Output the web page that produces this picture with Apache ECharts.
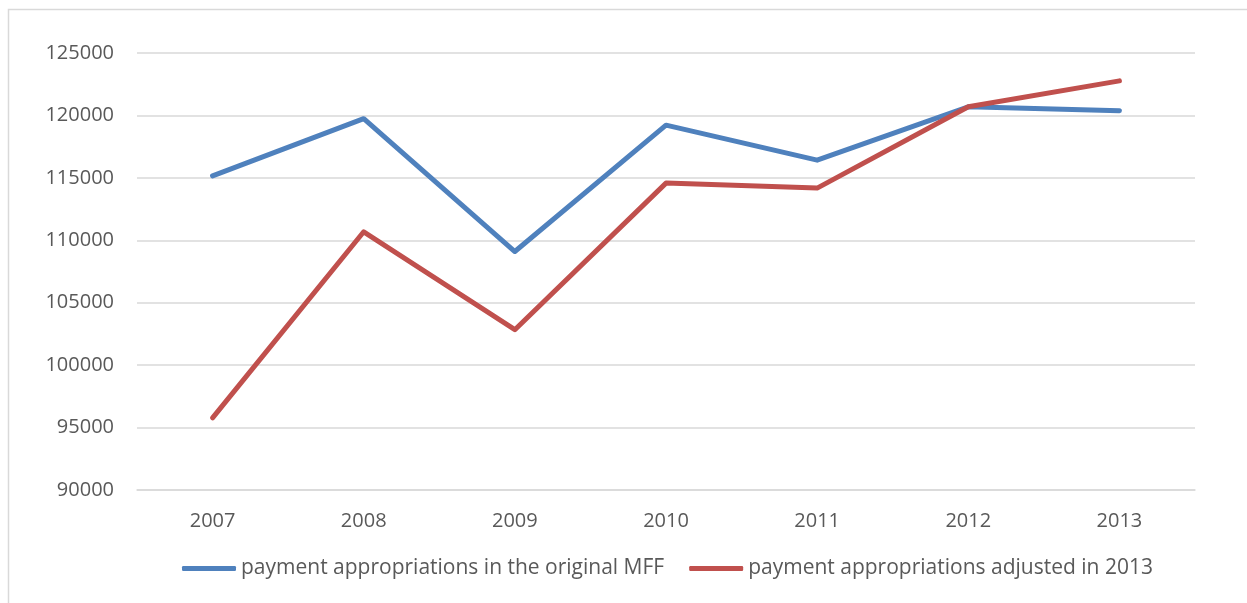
<!DOCTYPE html>
<html>
<head>
<meta charset="utf-8">
<script src="https://cdn.jsdelivr.net/npm/echarts@6/dist/echarts.min.js"></script>
<style>
    html, body { margin: 0; padding: 0; background: #fff; }
    #chart { width: 1247px; height: 603px; }
</style>
</head>
<body>
<div id="chart"></div>
<script>
    // years on the category axis
    const years = ["2007", "2008", "2009", "2010", "2011", "2012", "2013"];
    // payment appropriations in the original MFF
    const originalMff = [115160, 119740, 109100, 119220, 116420, 120690, 120370];
    // payment appropriations adjusted in 2013
    const adjusted2013 = [95780, 110680, 102840, 114580, 114180, 120690, 122770];

    const textColor = "#595959";
    const gridColor = "#d9d9d9";
    const font = "'Open Sans', 'Liberation Sans', sans-serif";

    let chart = echarts.init(document.getElementById("chart"));

    let option = {
        animation: false,
        textStyle: { fontFamily: font },
        graphic: [{
            type: "rect",
            shape: { x: 8.5, y: 9.5, width: 1400, height: 800 },
            style: { fill: "none", stroke: gridColor, lineWidth: 1.5 },
            silent: true
        }],
        grid: {
            left: 137,
            right: 52,
            top: 53,
            bottom: 113
        },
        legend: {
            bottom: 19,
            left: 177,
            itemWidth: 54,
            itemHeight: 5,
            itemGap: 25,
            icon: "roundRect",
            textStyle: { color: textColor, fontSize: 21, fontFamily: font },
            data: [
                "payment appropriations in the original MFF",
                "payment appropriations adjusted in 2013"
            ]
        },
        xAxis: {
            type: "category",
            data: years,
            boundaryGap: true,
            axisLine: { lineStyle: { color: gridColor, width: 1.5 } },
            axisTick: { show: false },
            axisLabel: { color: textColor, fontSize: 20, margin: 21, fontFamily: font }
        },
        yAxis: {
            type: "value",
            min: 90000,
            max: 125000,
            interval: 5000,
            axisLine: { show: false },
            axisTick: { show: false },
            splitLine: { lineStyle: { color: gridColor, width: 1.5 } },
            axisLabel: {
                color: textColor,
                fontSize: 20,
                margin: 23,
                fontFamily: font,
                formatter: (v) => String(v)
            }
        },
        series: [
            {
                name: "payment appropriations in the original MFF",
                type: "line",
                data: originalMff,
                symbol: "none",
                color: "#4f81bd",
                lineStyle: { width: 5, cap: "round", join: "round" }
            },
            {
                name: "payment appropriations adjusted in 2013",
                type: "line",
                data: adjusted2013,
                symbol: "none",
                color: "#c0504d",
                lineStyle: { width: 5, cap: "round", join: "round" }
            }
        ]
    };

    chart.setOption(option);
</script>
</body>
</html>
